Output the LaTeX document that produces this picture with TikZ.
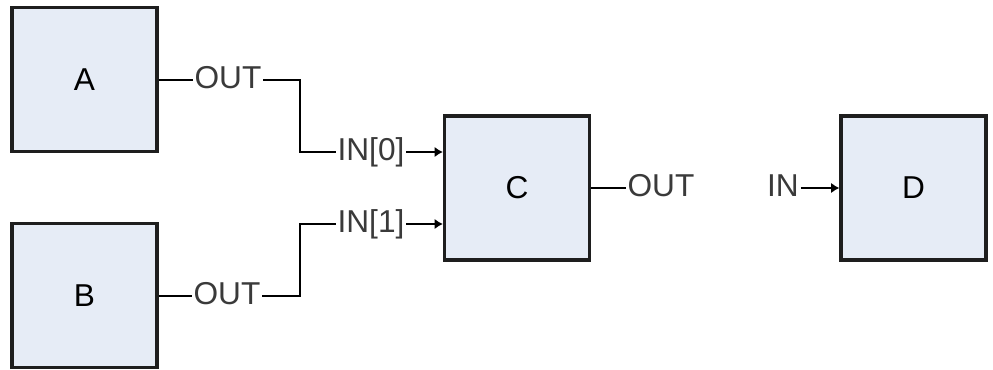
\documentclass[tikz,border=0pt]{standalone}
\usepackage{fontspec}
\setmainfont{Liberation Sans}
\usepackage{tikz}
\usetikzlibrary{arrows.meta, shadows}
\definecolor{blockFill}{HTML}{E6ECF6}
\definecolor{blockLine}{HTML}{1E1E1E}
\definecolor{labelGray}{HTML}{3A3A3A}

\begin{document}
\begin{tikzpicture}[
  x=0.025cm, y=-0.025cm,
  every node/.style={font=\fontsize{22.5}{26}\selectfont},
  block/.style={draw=blockLine, fill=blockFill, line width=2.2pt,
                minimum width=3.625cm, minimum height=3.6cm,
                drop shadow={shadow xshift=1.3pt, shadow yshift=-1.3pt,
                             fill=black!22, opacity=1}},
  port/.style={text=labelGray, inner sep=1.2pt, text height=16.4pt, text depth=4pt},
  wire/.style={line width=1.9pt, draw=black},
  feed/.style={wire, -{Latex[length=6pt, width=7.5pt]}},
]
\useasboundingbox (0,0) rectangle (993,369);

% Blocks
\node[block] (A) at (84.5, 79.5) {A};
\node[block] (B) at (84.5, 295.5) {B};
\node[block] (C) at (517, 188) {C};
\node[block] (D) at (913.5, 188) {D};

% Port labels
\node[port] (outA) at (228, 80) {OUT};
\node[port] (outB) at (227, 296) {OUT};
\node[port] (in0) at (371, 152) {IN[0]};
\node[port] (in1) at (371, 224) {IN[1]};
\node[port] (outC) at (661, 188) {OUT};
\node[port] (inD) at (783, 188) {IN};

% Bends
\coordinate (bendA) at (300, 80);
\coordinate (bendB) at (300, 296);

% Wires
\draw[wire] (A.east |- outA) -- (outA.west);
\draw[wire] (outA.east) -- (bendA) |- (in0.west);
\draw[feed] (in0.east) -- (C.west |- in0);
\draw[wire] (B.east |- outB) -- (outB.west);
\draw[wire] (outB.east) -- (bendB) |- (in1.west);
\draw[feed] (in1.east) -- (C.west |- in1);
\draw[wire] (C.east) -- (outC.west);
\draw[feed] (inD.east) -- (D.west);
\end{tikzpicture}
\end{document}
